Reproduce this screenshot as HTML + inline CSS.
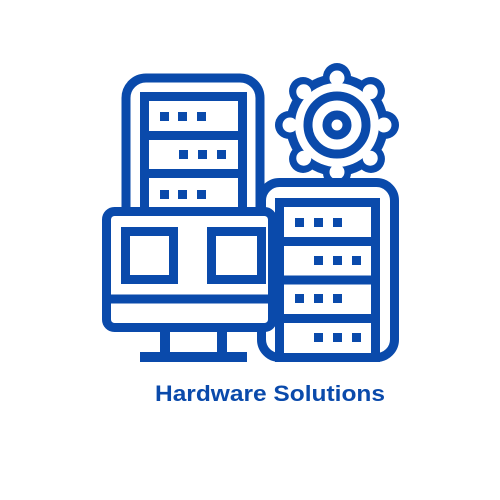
<!DOCTYPE html>
<html><head><style>html,body{margin:0;padding:0;background:#fff;width:500px;height:500px;overflow:hidden}</style></head>
<body>
<svg width="500" height="500" viewBox="0 0 500 500" xmlns="http://www.w3.org/2000/svg">
<g fill="none" stroke="#0a4aab" stroke-width="9">
  <path d="M126 212 V98 a20 20 0 0 1 20 -20 H240 a20 20 0 0 1 20 20 V212"/>
  <path d="M144.5 212 V96.5 H242.5 V212"/>
  <line x1="144" y1="135.5" x2="243" y2="135.5"/>
  <line x1="144" y1="173.5" x2="243" y2="173.5"/>
</g>
<!-- gear -->
<g fill="#0a4aab" transform="translate(337,125)">
  <circle r="51"/>
  <g id="t"><circle cx="0" cy="-48" r="14"/></g>
  <use href="#t" transform="rotate(45)"/><use href="#t" transform="rotate(90)"/><use href="#t" transform="rotate(135)"/>
  <use href="#t" transform="rotate(180)"/><use href="#t" transform="rotate(225)"/><use href="#t" transform="rotate(270)"/><use href="#t" transform="rotate(315)"/>
</g>
<g fill="#fff" transform="translate(337,125)">
  <circle r="42"/>
  <g id="w"><circle cx="0" cy="-47" r="7.5"/></g>
  <use href="#w" transform="rotate(45)"/><use href="#w" transform="rotate(90)"/><use href="#w" transform="rotate(135)"/>
  <use href="#w" transform="rotate(180)"/><use href="#w" transform="rotate(225)"/><use href="#w" transform="rotate(270)"/><use href="#w" transform="rotate(315)"/>
</g>
<g fill="none" stroke="#0a4aab" stroke-width="9">
  <circle cx="337" cy="125" r="29"/>
  <circle cx="337" cy="125" r="10"/>
</g>
<!-- right tower -->
<rect x="261.5" y="182.5" width="133" height="175" rx="18" fill="#fff" stroke="#0a4aab" stroke-width="9"/>
<g fill="none" stroke="#0a4aab" stroke-width="9">
  <rect x="279.5" y="202.5" width="96" height="155"/>
  <line x1="279" y1="241.5" x2="376" y2="241.5"/>
  <line x1="279" y1="280" x2="376" y2="280"/>
  <line x1="279" y1="318.5" x2="376" y2="318.5"/>
</g>
<!-- monitor -->
<rect x="106.5" y="211.5" width="166" height="116" rx="8" fill="#fff" stroke="#0a4aab" stroke-width="9"/>
<g fill="none" stroke="#0a4aab" stroke-width="9">
  <line x1="106" y1="299" x2="273" y2="299"/>
  <rect x="125.5" y="231.5" width="48" height="48"/>
  <rect x="211.5" y="231.5" width="50" height="48"/>
</g>
<g fill="#0a4aab">
  <rect x="160" y="330" width="10" height="24"/>
  <rect x="217" y="330" width="10" height="24"/>
  <rect x="140" y="352" width="107" height="10"/>
  <rect x="160" y="112" width="9" height="9"/><rect x="178" y="112" width="9" height="9"/><rect x="197" y="112" width="9" height="9"/>
  <rect x="179" y="150" width="9" height="9"/><rect x="198" y="150" width="9" height="9"/><rect x="217" y="150" width="9" height="9"/>
  <rect x="160" y="190" width="9" height="9"/><rect x="178" y="190" width="9" height="9"/><rect x="197" y="190" width="9" height="9"/>
  <rect x="295" y="218" width="9" height="9"/><rect x="314" y="218" width="9" height="9"/><rect x="333" y="218" width="9" height="9"/>
  <rect x="314" y="256" width="9" height="9"/><rect x="333" y="256" width="9" height="9"/><rect x="352" y="256" width="9" height="9"/>
  <rect x="295" y="294" width="9" height="9"/><rect x="314" y="294" width="9" height="9"/><rect x="333" y="294" width="9" height="9"/>
  <rect x="314" y="333" width="9" height="9"/><rect x="333" y="333" width="9" height="9"/><rect x="352" y="333" width="9" height="9"/>
</g>
<text x="155" y="401" font-family="Liberation Sans, sans-serif" font-weight="bold" font-size="22" fill="#0a4aab" textLength="230" lengthAdjust="spacingAndGlyphs">Hardware Solutions</text>
</svg>
</body></html>
